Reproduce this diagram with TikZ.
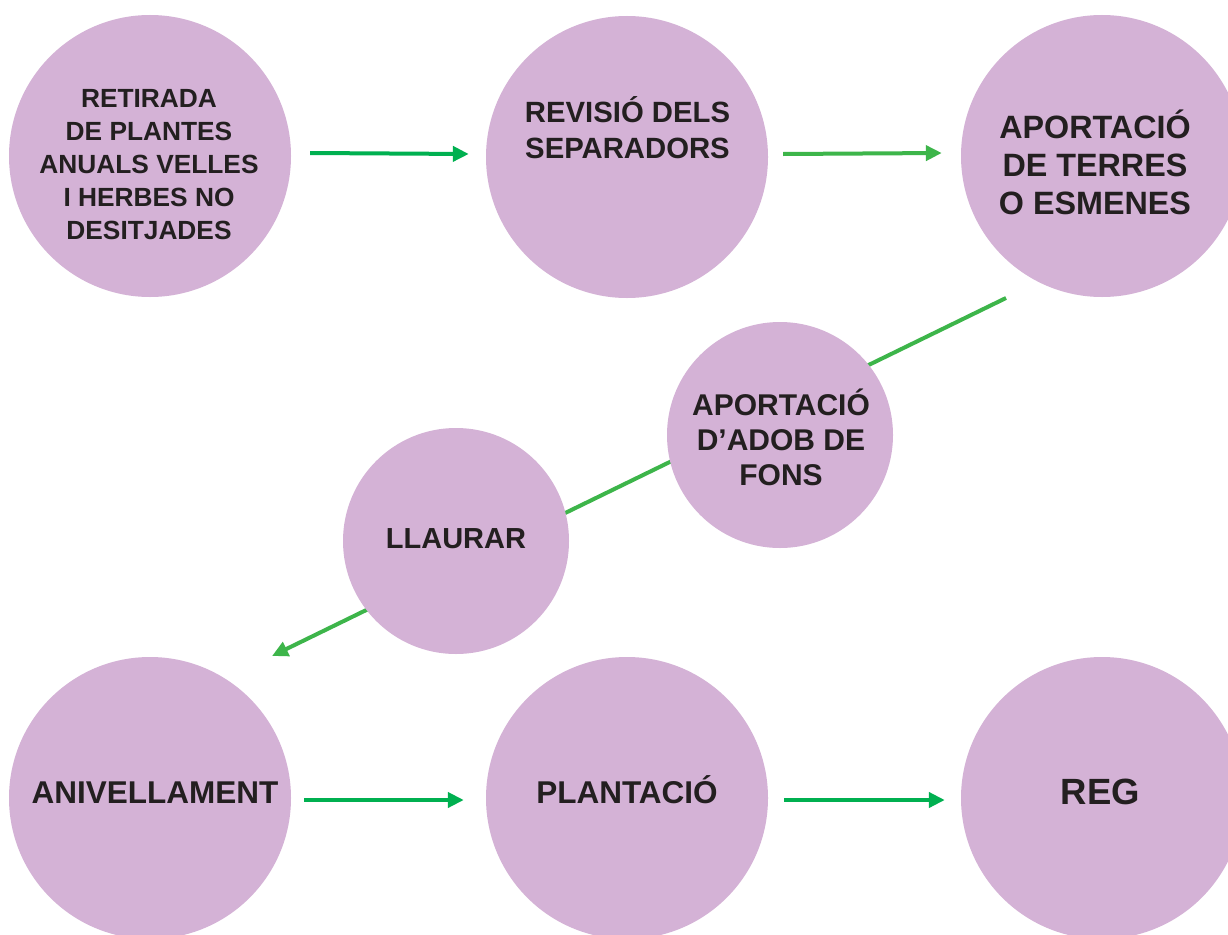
\documentclass[tikz,border=0pt]{standalone}
\usepackage{fontspec}
\setmainfont{Liberation Sans}
\usetikzlibrary{arrows.meta}
\definecolor{circfill}{HTML}{D4B2D6}
\definecolor{txtcol}{HTML}{231F20}
\definecolor{greenA}{HTML}{00B050}
\definecolor{greenB}{HTML}{3DB54A}
\tikzset{
  bigcirc/.style={circle, fill=circfill, draw=none, inner sep=0pt, minimum size=282pt},
  smallcirc/.style={circle, fill=circfill, draw=none, inner sep=0pt, minimum size=226pt},
  lbl/.style 2 args={align=center, text=txtcol, inner sep=0pt, font=\bfseries\fontsize{#1}{#2}\selectfont},
  arrA/.style={draw=greenA, line width=4pt, -{Triangle[length=16pt,width=15pt]}},
  arrB/.style={draw=greenB, line width=4pt, -{Triangle[length=16pt,width=15pt]}},
}
\begin{document}
\begin{tikzpicture}[x=1pt,y=-1pt]
\clip (0,0) rectangle (1228,934);
\useasboundingbox (0,0) rectangle (1228,934);
\fill[white] (0,0) rectangle (1228,934);

% diagonal connector (behind the middle circles)
\coordinate (d1) at (1006,298);
\coordinate (d2) at (272,656);
\draw[arrB] (d1) -- (d2);

% circles
\node[bigcirc] (c1) at (150,156) {};
\node[bigcirc] (c2) at (627,157) {};
\node[bigcirc] (c3) at (1102,156) {};
\node[smallcirc] (c4) at (780,435) {};
\node[smallcirc] (c5) at (456,541) {};
\node[bigcirc] (c6) at (150,798) {};
\node[bigcirc] (c7) at (627,798) {};
\node[bigcirc] (c8) at (1102,798) {};

% labels
\node[lbl={26.3}{33}] (t1) at (149,165) {RETIRADA\\DE PLANTES\\ANUALS VELLES\\I HERBES NO\\DESITJADES};
\node[lbl={29.3}{36}] (t2) at (627.5,128) {REVISIÓ DELS\\SEPARADORS};
\node[lbl={32.3}{38}] (t3) at (1095,162) {APORTACIÓ\\DE TERRES\\O ESMENES};
\node[lbl={30}{35}] (t4) at (781,437) {APORTACIÓ\\D’ADOB DE\\FONS};
\node[lbl={29}{34}] (t5) at (456,539) {LLAURAR};
\node[lbl={31.5}{37}] (t6) at (155,792.5) {ANIVELLAMENT};
\node[lbl={31.5}{37}] (t7) at (627,790) {PLANTACIÓ};
\node[lbl={36.5}{43}] (t8) at (1100.5,791.5) {REG};

% horizontal connectors
\draw[arrA] ([xshift=19pt,yshift=3pt]c1.east) -- ([xshift=-17pt,yshift=3pt]c2.west);
\draw[arrB] ([xshift=15pt,yshift=3pt]c2.east) -- ([xshift=-19pt,yshift=3pt]c3.west);
\draw[arrA] ([xshift=13pt,yshift=-2pt]c6.east) -- ([xshift=-22pt,yshift=-2pt]c7.west);
\draw[arrA] ([xshift=16pt,yshift=-2pt]c7.east) -- ([xshift=-16pt,yshift=-2pt]c8.west);
\end{tikzpicture}
\end{document}
